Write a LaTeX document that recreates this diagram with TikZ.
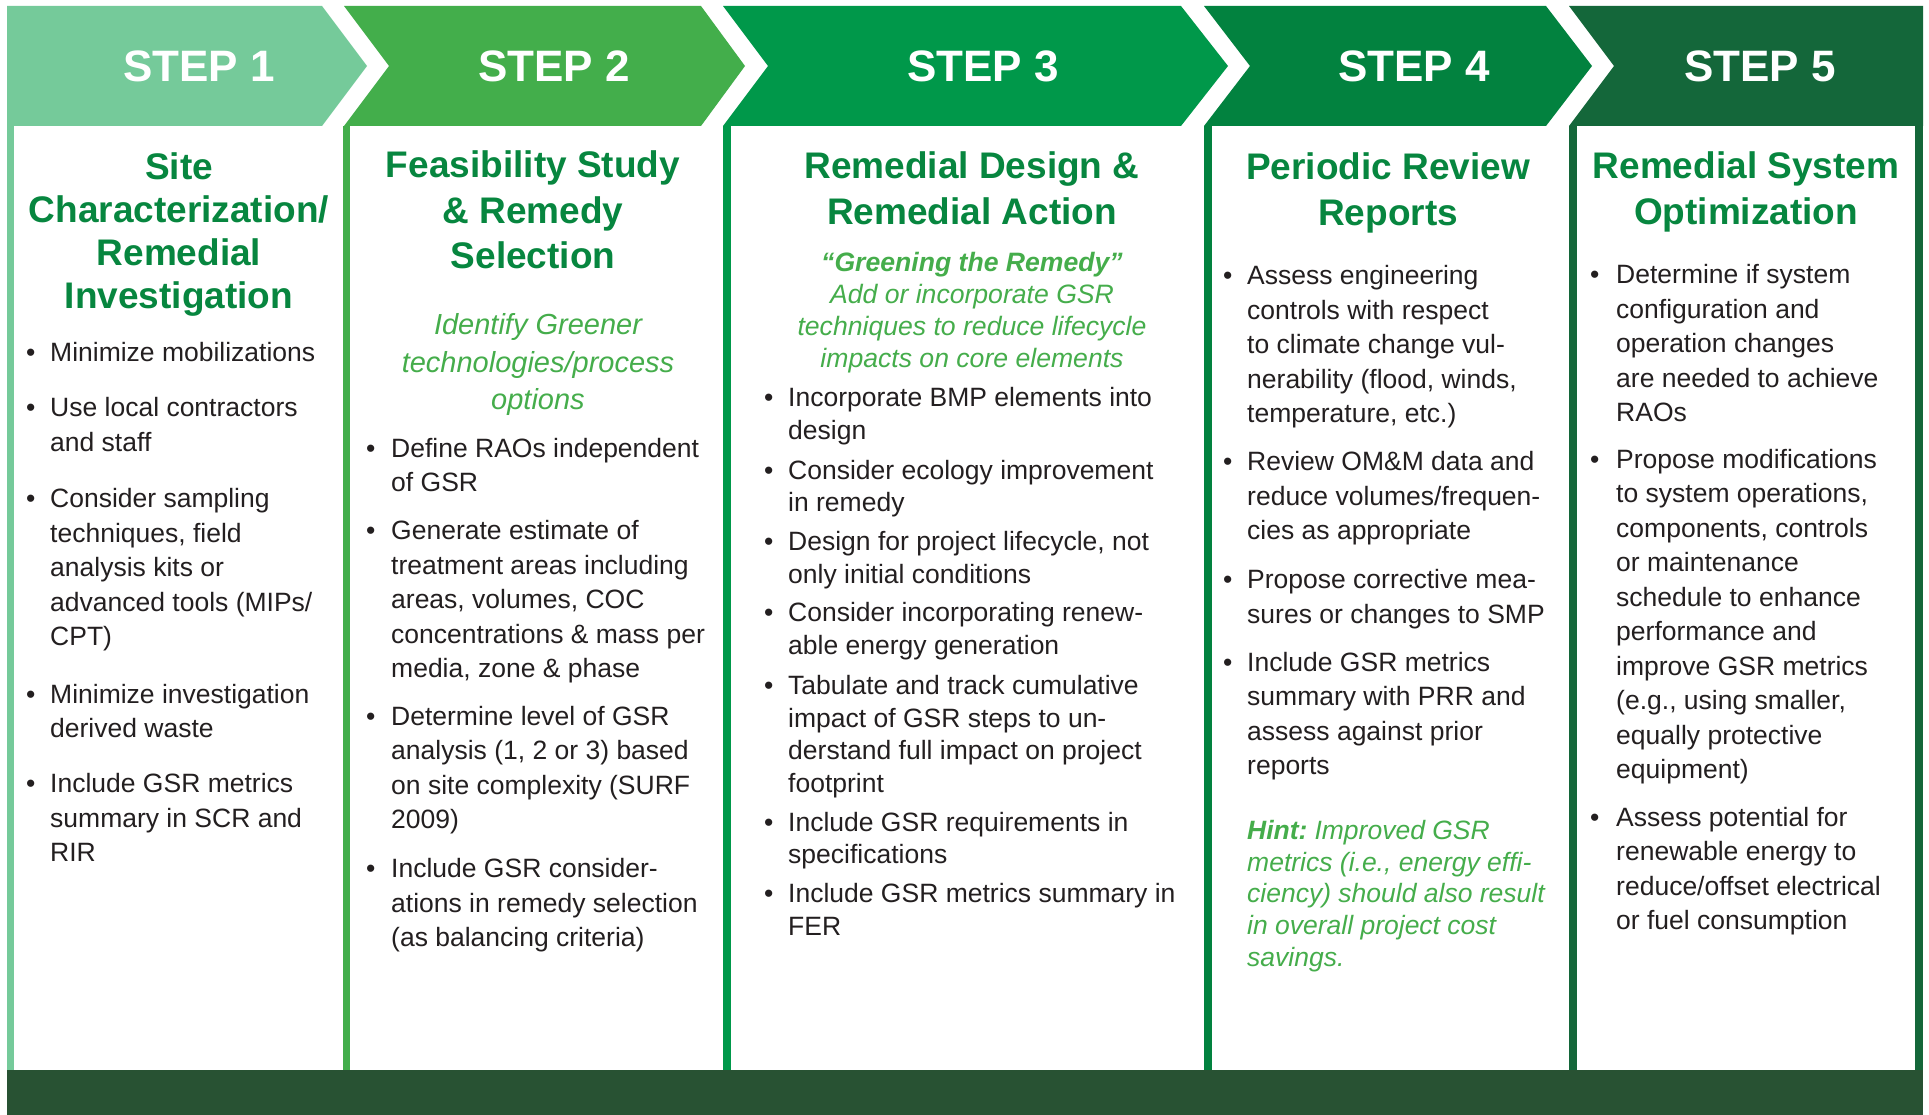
\documentclass[tikz,border=0pt]{standalone}
\usepackage{fontspec}
\setmainfont{Liberation Sans}
\definecolor{sA}{HTML}{75CA9A}
\definecolor{sB}{HTML}{43AE4B}
\definecolor{sC}{HTML}{00984A}
\definecolor{sD}{HTML}{02823F}
\definecolor{sE}{HTML}{14673A}
\definecolor{barc}{HTML}{285233}
\definecolor{ttl}{HTML}{07863F}
\definecolor{itc}{HTML}{45AD4B}
\definecolor{bodytxt}{HTML}{231F20}
\newcommand\lns[1]{\parbox[t]{440pt}{\raggedright #1}}
\newcommand\clns[2]{\parbox[t]{#1}{\centering #2}}
\tikzset{
  steplbl/.style={anchor=base, inner sep=0pt, text=white, font=\fontsize{44}{50}\selectfont\bfseries},
  ttlnode/.style={anchor=base, inner sep=0pt, text=ttl, font=\fontsize{37}{45.5}\selectfont\bfseries},
  ttlone/.style={ttlnode, font=\fontsize{37}{42.7}\selectfont\bfseries},
  itnode/.style={anchor=base, inner sep=0pt, text=itc, font=\fontsize{29}{37.5}\selectfont\itshape},
  itthree/.style={anchor=base, inner sep=0pt, text=itc, font=\fontsize{26.6}{32}\selectfont\itshape},
  hintnode/.style={anchor=base west, inner sep=0pt, text=itc, font=\fontsize{26.5}{31.8}\selectfont\itshape},
  bul/.style={anchor=base west, inner sep=0pt, text=bodytxt, font=\fontsize{26.5}{34.5}\selectfont},
  body/.style={anchor=base west, inner sep=0pt, text=bodytxt, font=\fontsize{26.5}{34.5}\selectfont},
  bodythree/.style={body, font=\fontsize{26.5}{32.6}\selectfont},
}
\begin{document}
\begin{tikzpicture}[x=1pt,y=-1pt]
\useasboundingbox (0,0) rectangle (1929,1115);
\fill[white] (0,0) rectangle (1929,1115);
% chevrons
\fill[sA] (7,6) -- (322,6) -- (367,66) -- (322,126) -- (7,126) -- cycle;
\fill[sB] (344,6) -- (701,6) -- (745,66) -- (701,126) -- (344,126) -- (389,66) -- cycle;
\fill[sC] (723,6) -- (1181,6) -- (1228,66) -- (1181,126) -- (723,126) -- (768,66) -- cycle;
\fill[sD] (1204,6) -- (1546,6) -- (1592,66) -- (1546,126) -- (1204,126) -- (1250,66) -- cycle;
\fill[sE] (1569,6) -- (1923,6) -- (1923,126) -- (1569,126) -- (1614,66) -- cycle;
% column borders
\fill[sA] (7,126) rectangle (14,1070);
\fill[sB] (343,126) rectangle (350,1070);
\fill[sC] (723,126) rectangle (731,1070);
\fill[sD] (1204,126) rectangle (1212,1070);
\fill[sE] (1569,126) rectangle (1577,1070);
\fill[sE] (1915,126) rectangle (1923,1070);
% bottom bar
\fill[barc] (7,1070) rectangle (1923,1115);
% step labels
\node[steplbl] (st1) at (199,82) {STEP 1};
\node[steplbl] (st2) at (554,82) {STEP 2};
\node[steplbl] (st3) at (983,82) {STEP 3};
\node[steplbl] (st4) at (1414,82) {STEP 4};
\node[steplbl] (st5) at (1760,82) {STEP 5};
% titles
\begin{scope}[yshift=-2pt]
\node[ttlone] (t1) at (179,178) {\clns{330pt}{Site\\Characterization/\\Remedial\\Investigation}};
\node[ttlnode] (t2) at (533,176) {\clns{370pt}{Feasibility Study\\\& Remedy\\Selection}};
\node[ttlnode] (t3) at (972,177) {\clns{470pt}{Remedial Design \&\\Remedial Action}};
\node[ttlnode] (t4) at (1388,178) {\clns{350pt}{Periodic Review\\Reports}};
\node[ttlnode] (t5) at (1746,177) {\clns{340pt}{Remedial System\\Optimization}};
\end{scope}
\begin{scope}[yshift=-1.3pt]
% italic notes
\node[itnode] (i2) at (538,333.5) {\clns{370pt}{Identify Greener\\technologies/process\\options}};
\node[itthree] (i3) at (972,270) {\clns{470pt}{\textbf{“Greening the Remedy”}\\Add or incorporate GSR\\techniques to reduce lifecycle\\impacts on core elements}};
\node[hintnode] (h4) at (1247,838) {\lns{\textbf{Hint:}\hspace{7pt}Improved GSR\\metrics (i.e., energy effi-\\ciency) should also result\\in overall project cost\\savings.}};
% column 1
\node[bul] (b1a) at (26,359.8) {•};
\node[body] (c1a) at (50,359.8) {\lns{Minimize mobilizations}};
\node[bul] (b1b) at (26,415.2) {•};
\node[body] (c1b) at (50,415.2) {\lns{Use local contractors\\and staff}};
\node[bul] (b1c) at (26,506.2) {•};
\node[body] (c1c) at (50,506.2) {\lns{Consider sampling\\techniques, field\\analysis kits or\\advanced tools (MIPs/\\CPT)}};
\node[bul] (b1d) at (26,701.8) {•};
\node[body] (c1d) at (50,701.8) {\lns{Minimize investigation\\derived waste}};
\node[bul] (b1e) at (26,791.6) {•};
\node[body] (c1e) at (50,791.6) {\lns{Include GSR metrics\\summary in SCR and\\RIR}};
% column 2
\node[bul] (b2a) at (366,455.8) {•};
\node[body] (c2a) at (391,455.8) {\lns{Define RAOs independent\\of GSR}};
\node[bul] (b2b) at (366,538.2) {•};
\node[body] (c2b) at (391,538.2) {\lns{Generate estimate of\\treatment areas including\\areas, volumes, COC\\concentrations \& mass per\\media, zone \& phase}};
\node[bul] (b2c) at (366,724) {•};
\node[body] (c2c) at (391,724) {\lns{Determine level of GSR\\analysis (1, 2 or 3) based\\on site complexity (SURF\\2009)}};
\node[bul] (b2d) at (366,876.5) {•};
\node[body] (c2d) at (391,876.5) {\lns{Include GSR consider-\\ations in remedy selection\\(as balancing criteria)}};
% column 3
\node[bul] (b3a) at (764,405.4) {•};
\node[bodythree] (c3a) at (788,405.4) {\lns{Incorporate BMP elements into\\design}};
\node[bul] (b3b) at (764,477.9) {•};
\node[bodythree] (c3b) at (788,477.9) {\lns{Consider ecology improvement\\in remedy}};
\node[bul] (b3c) at (764,549.3) {•};
\node[bodythree] (c3c) at (788,549.3) {\lns{Design for project lifecycle, not\\only initial conditions}};
\node[bul] (b3d) at (764,620.6) {•};
\node[bodythree] (c3d) at (788,620.6) {\lns{Consider incorporating renew-\\able energy generation}};
\node[bul] (b3e) at (764,693.2) {•};
\node[bodythree] (c3e) at (788,693.2) {\lns{Tabulate and track cumulative\\impact of GSR steps to un-\\derstand full impact on project\\footprint}};
\node[bul] (b3f) at (764,829.8) {•};
\node[bodythree] (c3f) at (788,829.8) {\lns{Include GSR requirements in\\specifications}};
\node[bul] (b3g) at (764,901.1) {•};
\node[bodythree] (c3g) at (788,901.1) {\lns{Include GSR metrics summary in\\FER}};
% column 4
\node[bul] (b4a) at (1223,283.6) {•};
\node[body] (c4a) at (1247,283.6) {\lns{Assess engineering\\controls with respect\\to climate change vul-\\nerability (flood, winds,\\temperature, etc.)}};
\node[bul] (b4b) at (1223,469.3) {•};
\node[body] (c4b) at (1247,469.3) {\lns{Review OM\&M data and\\reduce volumes/frequen-\\cies as appropriate}};
\node[bul] (b4c) at (1223,587.4) {•};
\node[body] (c4c) at (1247,587.4) {\lns{Propose corrective mea-\\sures or changes to SMP}};
\node[bul] (b4d) at (1223,669.8) {•};
\node[body] (c4d) at (1247,669.8) {\lns{Include GSR metrics\\summary with PRR and\\assess against prior\\reports}};
% column 5
\node[bul] (b5a) at (1590,282.3) {•};
\node[body] (c5a) at (1616,282.3) {\lns{Determine if system\\configuration and\\operation changes\\are needed to achieve\\RAOs}};
\node[bul] (b5b) at (1590,466.9) {•};
\node[body] (c5b) at (1616,466.9) {\lns{Propose modifications\\to system operations,\\components, controls\\or maintenance\\schedule to enhance\\performance and\\improve GSR metrics\\(e.g., using smaller,\\equally protective\\equipment)}};
\node[bul] (b5c) at (1590,824.9) {•};
\node[body] (c5c) at (1616,824.9) {\lns{Assess potential for\\renewable energy to\\reduce/offset electrical\\or fuel consumption}};
\end{scope}
\end{tikzpicture}
\end{document}
